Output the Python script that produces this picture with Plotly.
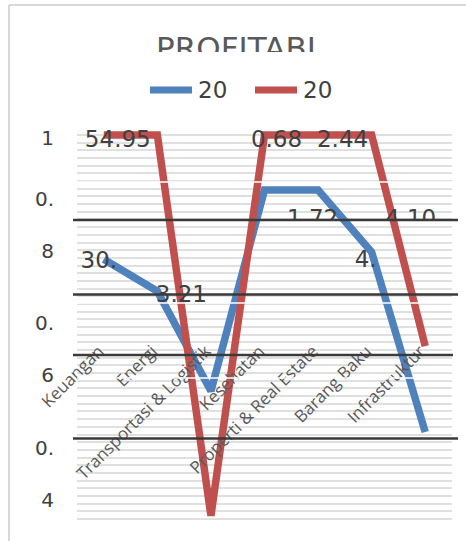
import plotly.graph_objects as go

W, H = 466, 541

# ---- data -------------------------------------------------------------
categories = ["Keuangan", "Energi", "Transportasi & Logistik", "Kesehatan",
              "Properti & Real Estate", "Barang Baku", "Infrastruktur"]
series_names = ["20", "20"]
blue_values = [0.806, 0.756, 0.600, 0.914, 0.914, 0.817, 0.536]
red_values = [1.0, 1.0, 0.405, 1.0, 1.0, 1.0, 0.670]
y_tick_vals = [0.995, 0.86, 0.665, 0.47]
y_tick_text = ["1", "0.<br><br>8", "0.<br><br>6", "0.<br><br>4"]
title_text = "PROFITABI"

# data labels: which series / category they belong to and what they read
label_series = [1, 0, 0, 1, 1, 0, 0, 1]
label_category = [0, 0, 1, 3, 4, 4, 5, 5]
label_text = ["54.95", "30.", "3.21", "0.68", "2.44", "1.72", "4.", "4.10"]

# ---- styling / geometry ------------------------------------------------
COLORS = ["#4f81bd", "#c0504d"]
HAND = "DejaVu Sans"
LABEL_GREY = "#404040"

PLOT_L, PLOT_R = 77, 452          # plot area, px
PLOT_T, PLOT_B = 130, 524
VAL_TOP_PX = 135                  # pixel row of value 1.0
PX_PER_UNIT = 640.0
PX_PER_CAT = (PLOT_R - PLOT_L) / 7.0

Y_RANGE = [1.0 - (PLOT_B - VAL_TOP_PX) / PX_PER_UNIT,
           1.0 + (VAL_TOP_PX - PLOT_T) / PX_PER_UNIT]
X_RANGE = [-0.5, 6.5]


def px_val(py):
    return 1.0 - (py - VAL_TOP_PX) / PX_PER_UNIT


def pyp(py):
    return 1.0 - py / H


def pxp(px):
    return px / W


# label offsets from their point, in pixels (right, down)
label_dx = [14, -5, 24, 12, 24.5, -5.5, -6, 39]
label_dy = [6, 3, 5, 6, 6, 30, 9, 85]
label_clipped = [False, False, False, False, False, True, False, True]

values = [blue_values, red_values]
xs = list(range(len(categories)))

fig = go.Figure()

for s, vals in enumerate(values):
    fig.add_trace(go.Scatter(
        x=xs, y=vals, mode="lines", name=series_names[s],
        line=dict(color=COLORS[s], width=7.5),
        showlegend=False, hoverinfo="skip"))

# data labels (two of them sit in a shorter panel that trims their lower half)
for clip in (False, True):
    lx, ly, lt = [], [], []
    for i, t in enumerate(label_text):
        if label_clipped[i] != clip:
            continue
        c = label_category[i]
        lx.append(c + label_dx[i] / PX_PER_CAT)
        ly.append(values[label_series[i]][c] - label_dy[i] / PX_PER_UNIT)
        lt.append(t)
    fig.add_trace(go.Scatter(
        x=lx, y=ly, text=lt, mode="text", textposition="middle center",
        textfont=dict(family=HAND, size=23, color=LABEL_GREY),
        cliponaxis=True, showlegend=False, hoverinfo="skip",
        xaxis="x3" if clip else "x", yaxis="y3" if clip else "y"))

# chart title, cut off at the bottom by its panel
fig.add_trace(go.Scatter(
    x=[236 / W], y=[0.04], text=[title_text], mode="text",
    textposition="middle center",
    textfont=dict(family=HAND, size=31, color="#595959"),
    cliponaxis=True, showlegend=False, hoverinfo="skip",
    xaxis="x4", yaxis="y4"))

x_dom = [pxp(PLOT_L), pxp(PLOT_R)]
y_dom = [pyp(PLOT_B), pyp(PLOT_T)]

shapes = []
# chart frame (top and left edges)
shapes.append(dict(type="line", xref="paper", yref="paper",
                   x0=pxp(9), x1=1.0, y0=pyp(5), y1=pyp(5),
                   line=dict(color="#d9d9d9", width=2)))
shapes.append(dict(type="line", xref="paper", yref="paper",
                   x0=pxp(9), x1=pxp(9), y0=pyp(5), y1=0,
                   line=dict(color="#d9d9d9", width=2)))
# thin white rules running across the plot
for py in (182, 303, 378):
    shapes.append(dict(type="line", xref="paper", yref="y", layer="above",
                       x0=pxp(PLOT_L), x1=pxp(PLOT_R), y0=px_val(py), y1=px_val(py),
                       line=dict(color="white", width=1.5)))
# dark horizontal rules
for py, right in ((220, 458), (294.5, 458), (355, 453), (438.5, 458)):
    shapes.append(dict(type="line", xref="paper", yref="y", layer="above",
                       x0=pxp(73), x1=pxp(right), y0=px_val(py), y1=px_val(py),
                       line=dict(color="#3a3a3a", width=2.5)))

# legend
annotations = []
legend_x = [150, 255]
for s in range(2):
    x0 = legend_x[s]
    shapes.append(dict(type="line", xref="paper", yref="paper",
                       x0=pxp(x0), x1=pxp(x0 + 42), y0=pyp(90), y1=pyp(90),
                       line=dict(color=COLORS[s], width=7)))
    annotations.append(dict(xref="paper", yref="paper", x=pxp(x0 + 46), y=pyp(90),
                            xanchor="left", yanchor="middle", showarrow=False,
                            text=series_names[s],
                            font=dict(family=HAND, size=23, color=LABEL_GREY)))

fig.update_layout(
    width=W, height=H, margin=dict(l=0, r=0, t=0, b=0, autoexpand=False),
    paper_bgcolor="white", plot_bgcolor="rgba(0,0,0,0)",
    showlegend=False, shapes=shapes, annotations=annotations,
    xaxis=dict(domain=x_dom, range=X_RANGE, anchor="free", position=pyp(337),
               tickmode="array", tickvals=xs, ticktext=categories,
               tickangle=-45, ticks="", showline=False, showgrid=False,
               zeroline=False, automargin=False, ticklabelshift=-5,
               tickfont=dict(family="Open Sans", size=17, color="#595959")),
    yaxis=dict(domain=y_dom, range=Y_RANGE, anchor="x",
               tickmode="array", tickvals=y_tick_vals, ticktext=y_tick_text,
               ticks="", showgrid=False, zeroline=False, showline=False,
               ticklabelstandoff=22, automargin=False,
               tickfont=dict(family=HAND, size=20, color=LABEL_GREY),
               minor=dict(tickmode="linear", tick0=0.4, dtick=0.012,
                          showgrid=True, gridcolor="#e0e0e0", gridwidth=1.5)),
    xaxis3=dict(domain=x_dom, range=X_RANGE, anchor="y3", visible=False,
                automargin=False),
    yaxis3=dict(domain=[pyp(220), pyp(PLOT_T)],
                range=[px_val(220), Y_RANGE[1]], anchor="x3", visible=False,
                automargin=False),
    xaxis4=dict(domain=[0, 1], range=[0, 1], anchor="y4", visible=False,
                automargin=False),
    yaxis4=dict(domain=[pyp(52), pyp(30)], range=[0, 1], anchor="x4",
                visible=False, automargin=False),
)

fig.write_html("out.html")
